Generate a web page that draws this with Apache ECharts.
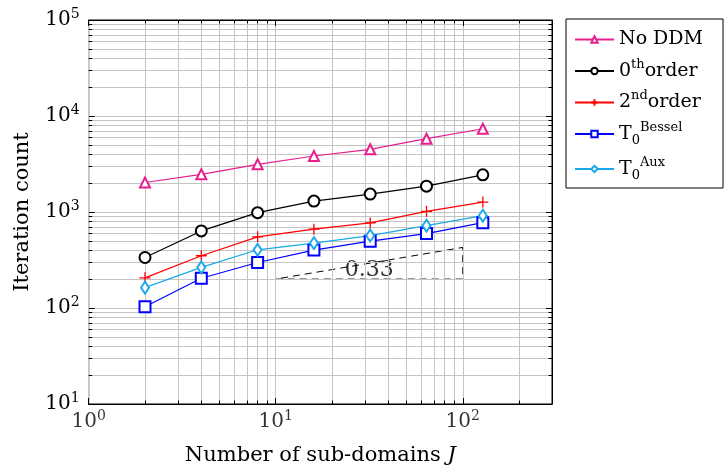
<!DOCTYPE html>
<html><head><meta charset="utf-8">
<script src="https://cdn.jsdelivr.net/npm/echarts@6/dist/echarts.min.js"></script>
<style>html,body{margin:0;padding:0;background:#fff}#c{width:725px;height:471px}</style>
</head><body><div id="c"></div>
<script>
// ---- data ----
const subdomains = [2, 4, 8, 16, 32, 64, 128];
const noDDM  = [2030, 2470, 3140, 3830, 4500, 5800, 7370];
const order0 = [336, 635, 984, 1300, 1537, 1860, 2437];
const order2 = [206, 350, 551, 662, 769, 1017, 1270];
const bessel = [103, 204, 298, 401, 497, 596, 775];
const aux    = [163, 265, 404, 474, 568, 721, 916];
const slopeX = [10, 100, 100, 10];
const slopeY = [200, 200, 427.6, 200];
const slopeLabelX = [31.6];
const slopeLabelY = [246];
const slopeText = '0.33';
const xRange = [1, 300];
const yRange = [10, 100000];
const xTickLabels = [1, 10, 100];
const seriesNames = ['No DDM', '0th order', '2nd order', 'T0 Bessel', 'T0 Aux'];

// ---- helpers ----
const FONT = 'DejaVu Serif';
const zip = (xs, ys) => xs.map((x, i) => [x, ys[i]]);
function minorValues(lo, hi) {
  const out = [];
  for (let d = lo; d < hi; d *= 10)
    for (let m = 2; m <= 9; m++) { const v = m * d; if (v < hi) out.push(v); }
  return out;
}
const xMinor = minorValues(xRange[0], xRange[1]);
const yMinor = minorValues(yRange[0], yRange[1]);
const xMajor = xTickLabels;
const gridLines = [];
xMinor.forEach(v => gridLines.push({ xAxis: v }));
xMajor.forEach(v => gridLines.push({ xAxis: v }));
yMinor.forEach(v => gridLines.push({ yAxis: v }));
// tick marks (short, on frame edges)
const tx = Math.pow(10, 3.5 / 187), ty = Math.pow(10, 3.5 / 96.5);
const tickSegs = [];
xMinor.forEach(v => {
  tickSegs.push([{ coord: [v, yRange[0]] }, { coord: [v, yRange[0] * ty] }]);
  tickSegs.push([{ coord: [v, yRange[1]] }, { coord: [v, yRange[1] / ty] }]);
});
yMinor.forEach(v => {
  tickSegs.push([{ coord: [xRange[0], v] }, { coord: [xRange[0] * tx, v] }]);
  tickSegs.push([{ coord: [xRange[1], v] }, { coord: [xRange[1] / tx, v] }]);
});
const ty2 = Math.pow(10, 6 / 96.5);
xMajor.forEach(v => {
  tickSegs.push([{ coord: [v, yRange[0]] }, { coord: [v, yRange[0] * ty2] }]);
  tickSegs.push([{ coord: [v, yRange[1]] }, { coord: [v, yRange[1] / ty2] }]);
});

const isPow = v => Math.abs(Math.log10(v) - Math.round(Math.log10(v))) < 1e-6;
const powLabel = v => isPow(v) ? '{b|10}{s|' + Math.round(Math.log10(v)) + '}' : '';
const tickRich = {
  b: { fontFamily: FONT, fontSize: 20, lineHeight: 26, verticalAlign: 'middle', color: '#000' },
  s: { fontFamily: FONT, fontSize: 14, lineHeight: 16, verticalAlign: 'top', color: '#000' }
};

const legendRich = {
  t: { fontFamily: FONT, fontSize: 19, lineHeight: 26, verticalAlign: 'middle', color: '#000' },
  sup: { fontFamily: FONT, fontSize: 13, lineHeight: 17, verticalAlign: 'top', color: '#000' },
  sub: { fontFamily: FONT, fontSize: 13, lineHeight: 14, verticalAlign: 'bottom', color: '#000' }
};
const legendText = {
  'No DDM': '{t|No DDM}',
  '0th order': '{t|0}{sup|th}{t|order}',
  '2nd order': '{t|2}{sup|nd}{t|order}',
  'T0 Bessel': '{t|T}{sub|0}{sup|Bessel}',
  'T0 Aux': '{t|T}{sub|0}{sup|Aux}'
};

function baseAxis(type, pos, range, show) {
  const ax = {
    type: 'log', logBase: 10, position: pos, min: range[0], max: range[1],
    axisLine: { show: true, onZero: false, lineStyle: { color: '#000', width: 1 } },
    axisTick: { show: type === 'y', inside: true, length: 6, lineStyle: { color: '#000', width: 1 } },
    axisLabel: { show: false },
    splitLine: { show: show && type === 'y', lineStyle: { color: '#c4c4c4', width: 1 } },
    minorTick: { show: false }
  };
  if (type === 'y') ax.interval = 1;
  if (show) {
    ax.axisLabel = { show: true, formatter: powLabel, rich: tickRich, margin: type === 'x' ? 5 : 9,
      interval: 0, showMaxLabel: type === 'y', showMinLabel: true, hideOverlap: false };
  }
  return ax;
}

const xMain = Object.assign(baseAxis('x', 'bottom', xRange, false), {
  name: '{a|Number of sub-domains }{i|J}', nameLocation: 'middle', nameGap: 41,
  nameTextStyle: { rich: {
    a: { fontFamily: FONT, fontSize: 21, color: '#000' },
    i: { fontFamily: FONT, fontSize: 21, fontStyle: 'italic', color: '#000' } } }
});
const yMain = Object.assign(baseAxis('y', 'left', yRange, true), {
  name: 'Iteration count', nameLocation: 'middle', nameGap: 56,
  nameTextStyle: { fontFamily: FONT, fontSize: 21, color: '#000' }
});
const xTop = baseAxis('x', 'top', xRange, false);
const yRight = baseAxis('y', 'right', yRange, false);

function dataSeries(name, ys, color, symbol, size, bw) {
  return {
    name, type: 'line', data: zip(subdomains, ys), z: 5,
    symbol, symbolSize: size, showAllSymbol: true,
    lineStyle: { color, width: 1.2 },
    itemStyle: { color, borderColor: color, borderWidth: bw || 1.2 },
    emphasis: { disabled: true }
  };
}

const option = {
  animation: false,
  backgroundColor: '#fff',
  textStyle: { fontFamily: FONT },
  grid: { left: 88.7, top: 20, right: 173, bottom: 65, show: true, borderColor: '#000', borderWidth: 1, backgroundColor: 'transparent' },
  xAxis: [xMain, xTop],
  yAxis: [yMain, yRight],
  legend: {
    orient: 'vertical', left: 566, top: 19, padding: [11, 20, 6, 8],
    itemWidth: 39, itemHeight: 8, itemGap: 9,
    borderColor: '#000', borderWidth: 1, borderRadius: 0,
    data: seriesNames,
    formatter: n => legendText[n],
    textStyle: { rich: legendRich, fontFamily: FONT, fontSize: 19, color: '#000' }
  },
  series: [
    {
      name: 'grid', type: 'line', data: [], z: 1, silent: true,
      markLine: { silent: true, symbol: ['none', 'none'], label: { show: false }, animation: false,
        lineStyle: { color: '#c4c4c4', width: 1, type: 'solid' }, data: gridLines }
    },
    {
      name: 'ticks', type: 'line', data: [], z: 2, silent: true,
      markLine: { silent: true, symbol: ['none', 'none'], label: { show: false }, animation: false,
        lineStyle: { color: '#000', width: 1, type: 'solid' }, data: tickSegs }
    },
    {
      // x tick labels, positioned by the x axis scale at the bottom edge
      name: 'xlabels', type: 'scatter', data: xTickLabels.map(v => [v, yRange[0]]), z: 4,
      symbolSize: 0, silent: true, clip: false,
      label: { show: true, position: 'bottom', distance: 5, formatter: p => powLabel(p.value[0]), rich: tickRich }
    },
    {
      name: 'slope', type: 'line', data: zip(slopeX, slopeY), z: 3, symbol: 'none', silent: true,
      lineStyle: { color: '#000', width: 1, type: [7, 5] }
    },
    {
      name: 'slopeLabel', type: 'scatter', data: zip(slopeLabelX, slopeLabelY), z: 4, symbolSize: 0, silent: true,
      label: { show: true, position: 'inside', formatter: slopeText, fontFamily: FONT, fontSize: 22, color: '#000' }
    },
    dataSeries('No DDM', noDDM, '#e6208f', 'emptyTriangle', 10),
    dataSeries('0th order', order0, '#000000', 'emptyCircle', 11),
    dataSeries('2nd order', order2, '#ff0000', 'path://M0,5L10,5M5,0L5,10', 11, 1.3),
    dataSeries('T0 Bessel', bessel, '#0000ff', 'emptyRect', 11),
    dataSeries('T0 Aux', aux, '#1aa9e8', 'emptyDiamond', [8, 12])
  ]
};
const chart = echarts.init(document.getElementById('c'), null, { renderer: 'canvas' });
chart.setOption(option);
</script></body></html>
